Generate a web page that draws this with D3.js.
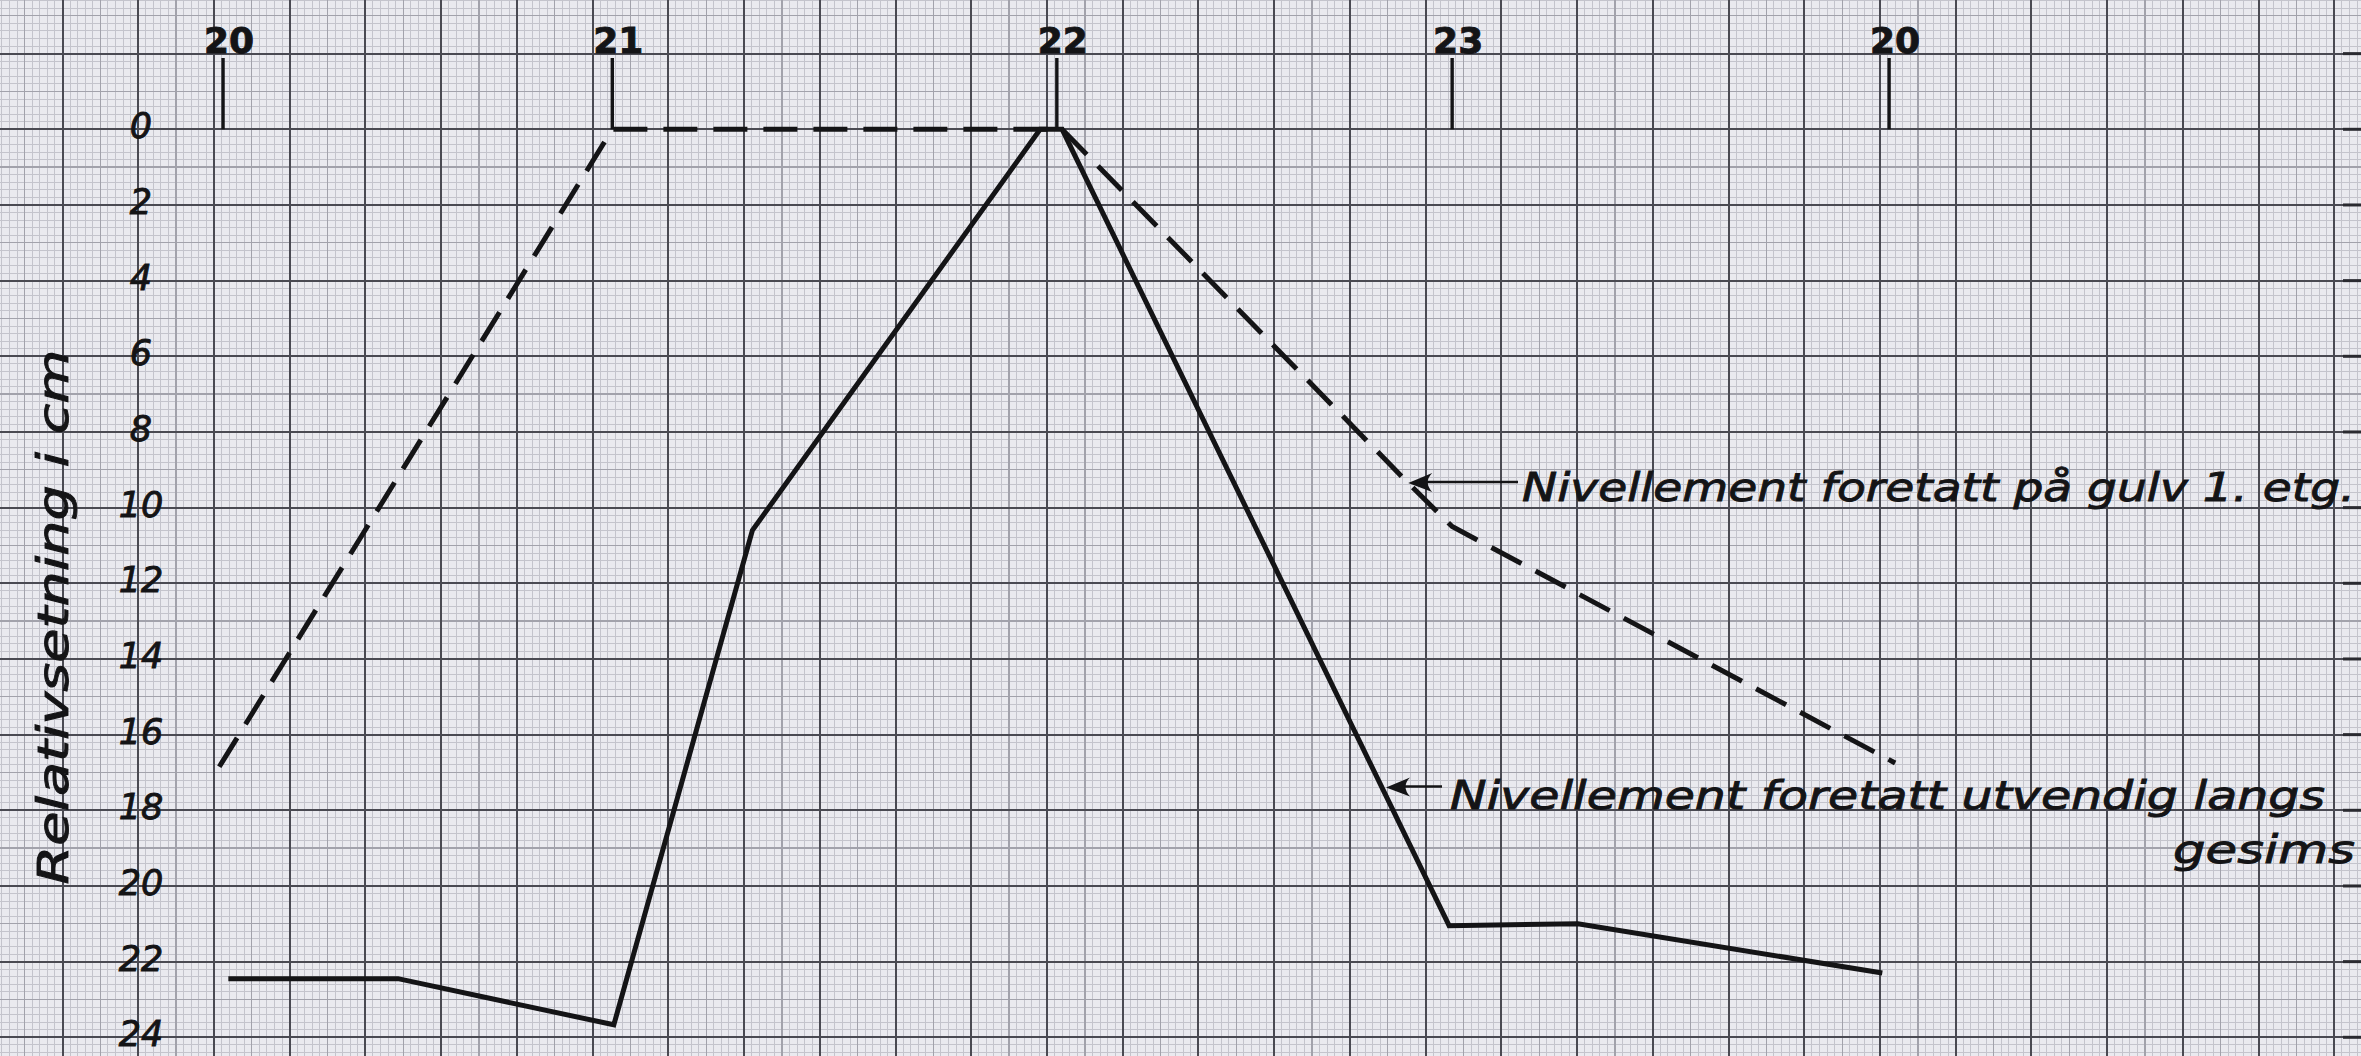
<!DOCTYPE html>
<html>
<head>
<meta charset="utf-8">
<script src="https://cdn.jsdelivr.net/npm/d3@7"></script>
<style>
  html, body { margin: 0; padding: 0; background: #eaeaef; }
  svg { display: block; }
</style>
</head>
<body>
<svg id="chart"></svg>
<script>
// Stations along the wall (position on the paper in mm) and their labels
const stationLabels = ["20", "21", "22", "23", "20"];
const stationPos = [21.2, 72.6, 131.3, 183.5, 241.2];

// Y axis ticks (relative settlement, cm)
const yTicks = [0, 2, 4, 6, 8, 10, 12, 14, 16, 18, 20, 22, 24];

// Solid line: levelling taken outside along the cornice
const solidX = [21.9, 44.3, 72.8, 91.1, 129.1, 132.0, 183.1, 200.1, 240.3];
const solidY = [22.45, 22.45, 23.67, 10.6, 0, 0, 21.05, 21.0, 22.3];

// Dashed line: levelling taken on the ground floor
const dashedX = [20.7, 72.6, 129.1, 132.0, 177.7, 183.5, 242.0];
const dashedY = [16.85, 0, 0, 0, 9.35, 10.5, 16.75];

const yTitle = "Relativsetning i cm";
const note1 = "Nivellement foretatt på gulv 1. etg.";
const note2a = "Nivellement foretatt utvendig langs";
const note2b = "gesims";

const width = 2361;
const height = 1056;
const ink = "#141416";
const handFont = "'DejaVu Sans', 'Liberation Sans', sans-serif";

const svg = d3.select("#chart")
  .attr("width", width)
  .attr("height", height)
  .style("background-color", "#eaeaef");

// Paper scale: 1 mm on the x axis, 1 cm settlement per 5 mm on y
const xScale = d3.scaleLinear()
  .domain([0, 300])
  .range([62.5, 62.5 + 300 * 7.573]);

const yScale = d3.scaleLinear()
  .domain([0, 24])
  .range([129.3, 1037.3]);

// --- graph paper grid ---
const xMin = Math.ceil(xScale.invert(0));
const xMax = Math.floor(xScale.invert(width));
const kMin = Math.ceil(yScale.invert(0) * 5);
const kMax = Math.floor(yScale.invert(height) * 5);

const vLines = d3.range(xMin, xMax + 1);
const hLines = d3.range(kMin, kMax + 1).map(k => k / 5);

const level = (i, major, medium) => (i % major === 0 ? 2 : (i % medium === 0 ? 1 : 0));
const gridStyle = [
  { color: "#c4c4cc", w: 1 },
  { color: "#a2a2ab", w: 1.3 },
  { color: "#4a4a52", w: 2 }
];

const grid = svg.append("g").attr("class", "grid");

[0, 1, 2].forEach(lv => {
  const g = grid.append("g").attr("shape-rendering", "crispEdges");
  g.selectAll("line.v")
    .data(vLines.filter(m => level(Math.abs(m), 10, 5) === lv))
    .enter()
    .append("line")
    .attr("x1", d => xScale(d))
    .attr("x2", d => xScale(d))
    .attr("y1", 0)
    .attr("y2", height)
    .attr("stroke", gridStyle[lv].color)
    .attr("stroke-width", gridStyle[lv].w);
  g.selectAll("line.h")
    .data(hLines.filter(v => level(Math.abs(Math.round(v * 5)), 10, 5) === lv))
    .enter()
    .append("line")
    .attr("x1", 0)
    .attr("x2", width)
    .attr("y1", d => yScale(d))
    .attr("y2", d => yScale(d))
    .attr("stroke", gridStyle[lv].color)
    .attr("stroke-width", gridStyle[lv].w);
});

// small marks at the right paper edge
grid.selectAll("line.edge")
  .data(hLines.filter(v => Math.round(v * 5) % 10 === 0))
  .enter()
  .append("line")
  .attr("x1", width - 18)
  .attr("x2", width)
  .attr("y1", d => yScale(d))
  .attr("y2", d => yScale(d))
  .attr("stroke", "#2a2a30")
  .attr("stroke-width", 3);

// thicken the lettering a little, like pen strokes
const pen = sel => sel
  .style("fill", ink)
  .style("stroke", ink)
  .style("stroke-width", 0.9)
  .style("font-family", handFont);

// --- y axis labels ---
svg.append("g")
  .selectAll("text")
  .data(yTicks)
  .enter()
  .append("text")
  .attr("x", 141)
  .attr("y", d => yScale(d) - 3)
  .attr("text-anchor", "middle")
  .attr("dominant-baseline", "central")
  .call(pen)
  .style("font-style", "italic")
  .style("font-size", "35px")
  .text(d => d);

svg.append("text")
  .attr("transform", `translate(68,${(yScale(5.8) + yScale(19.98)) / 2}) rotate(-90)`)
  .attr("text-anchor", "middle")
  .attr("textLength", 535)
  .attr("lengthAdjust", "spacingAndGlyphs")
  .call(pen)
  .style("font-style", "italic")
  .style("font-size", "42px")
  .text(yTitle);

// --- station ticks and labels on top ---
const stationsG = svg.append("g").attr("class", "stations");

stationsG.selectAll("line")
  .data(stationPos)
  .enter()
  .append("line")
  .attr("x1", d => xScale(d))
  .attr("x2", d => xScale(d))
  .attr("y1", 58)
  .attr("y2", yScale(0))
  .attr("stroke", ink)
  .attr("stroke-width", 3.4);

stationsG.selectAll("text")
  .data(stationPos)
  .enter()
  .append("text")
  .attr("x", d => xScale(d) + 6)
  .attr("y", 53)
  .attr("text-anchor", "middle")
  .call(pen)
  .style("font-weight", "bold")
  .style("font-size", "36px")
  .text((d, i) => stationLabels[i]);

// --- data lines ---
const line = d3.line()
  .x(d => xScale(d[0]))
  .y(d => yScale(d[1]));

const dashedData = dashedX.map((x, i) => [x, dashedY[i]]);
const solidData = solidX.map((x, i) => [x, solidY[i]]);

svg.append("path")
  .datum(dashedData)
  .attr("d", line)
  .attr("fill", "none")
  .attr("stroke", ink)
  .attr("stroke-width", 5)
  .attr("stroke-dasharray", "34,16")
  .attr("stroke-linejoin", "miter");

svg.append("path")
  .datum(solidData)
  .attr("d", line)
  .attr("fill", "none")
  .attr("stroke", ink)
  .attr("stroke-width", 5)
  .attr("stroke-linejoin", "miter");

// --- annotations with arrows ---
function arrow(tipX, tipY, endX) {
  const g = svg.append("g");
  g.append("line")
    .attr("x1", tipX + 10)
    .attr("x2", endX)
    .attr("y1", tipY - 1)
    .attr("y2", tipY - 1)
    .attr("stroke", ink)
    .attr("stroke-width", 2.5);
  g.append("path")
    .attr("d", `M${tipX},${tipY} L${tipX + 24},${tipY - 10} Q${tipX + 15},${tipY - 1} ${tipX + 24},${tipY + 9} Z`)
    .attr("fill", ink);
}

// arrow 1 points at the kink of the dashed line
const tip1 = dashedData[4];
arrow(xScale(tip1[0]), yScale(tip1[1]), 1518);

// arrow 2 points at the solid line where it crosses 17.4 cm
const v2 = 17.4;
const a = solidData[5], b = solidData[6];
const x2 = a[0] + (b[0] - a[0]) * (v2 - a[1]) / (b[1] - a[1]);
arrow(xScale(x2) + 4, yScale(v2), 1442);

const noteStyle = sel => sel
  .call(pen)
  .style("font-style", "italic")
  .style("font-size", "39px")
  .attr("lengthAdjust", "spacingAndGlyphs");

svg.append("text")
  .attr("x", 1522)
  .attr("y", 501)
  .attr("textLength", 833)
  .call(noteStyle)
  .text(note1);

svg.append("text")
  .attr("x", 1450)
  .attr("y", 809)
  .attr("textLength", 875)
  .call(noteStyle)
  .text(note2a);

svg.append("text")
  .attr("x", 2173)
  .attr("y", 863)
  .attr("textLength", 182)
  .call(noteStyle)
  .text(note2b);
</script>
</body>
</html>
